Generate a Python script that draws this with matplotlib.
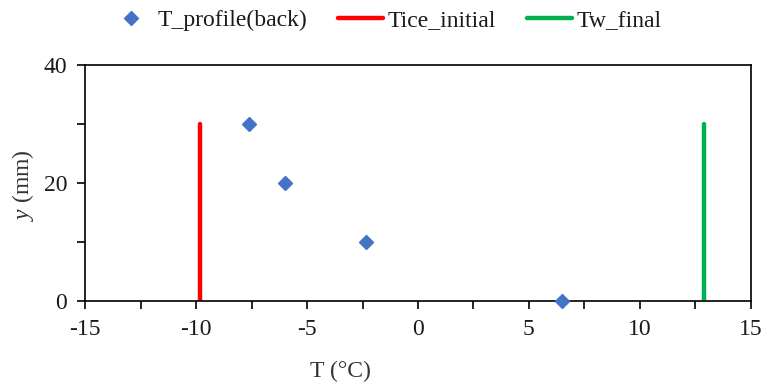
import matplotlib
matplotlib.use("Agg")
import matplotlib.pyplot as plt
from matplotlib.ticker import MultipleLocator

plt.rcParams['font.family'] = ['Liberation Serif', 'DejaVu Serif']
plt.rcParams['mathtext.fontset'] = 'custom'
plt.rcParams['mathtext.rm'] = 'Liberation Serif'
plt.rcParams['mathtext.it'] = 'Liberation Serif:italic'
plt.rcParams['axes.unicode_minus'] = False

# Temperature profile measured at the back (T in °C, y in mm)
profile_T = [-7.6, -6.0, -2.35, 6.5]
profile_y = [30, 20, 10, 0]

# Reference temperatures drawn as vertical lines over the same height
tice_initial = -9.85
tw_final = 12.9
line_y = [0, 30]

blue = "#4472C4"
red = "#FF0000"
green = "#00B050"
txt = "#1a1a1a"

fig = plt.figure(figsize=(7.62, 3.87), dpi=100)
ax = fig.add_axes([0.112, 0.222, 0.873, 0.610])

ax.plot(profile_T, profile_y, linestyle="none", marker="D", markersize=7.5,
        color=blue, label="T_profile(back)", zorder=3, clip_on=False)
ax.plot([tice_initial] * len(line_y), line_y, color=red, linewidth=3.2,
        solid_capstyle="round", label="Tice_initial")
ax.plot([tw_final] * len(line_y), line_y, color=green, linewidth=3.2,
        solid_capstyle="round", label="Tw_final")

ax.set_xlim(-15, 15)
ax.set_ylim(0, 40)
ax.xaxis.set_major_locator(MultipleLocator(5))
ax.xaxis.set_minor_locator(MultipleLocator(2.5))
ax.yaxis.set_major_locator(MultipleLocator(20))
ax.yaxis.set_minor_locator(MultipleLocator(10))

for s in ax.spines.values():
    s.set_linewidth(1.2)
    s.set_color("black")
ax.tick_params(which="both", direction="out", length=6, width=1.2, color="black")
ax.tick_params(which="major", labelsize=17, labelcolor=txt, pad=7)

ax.set_xlabel("T (°C)", fontsize=17, color="#333333")
ax.xaxis.set_label_coords(0.383, -0.30)
ax.xaxis.label.set_va("center")
ax.set_ylabel(r"$\it{y}$ (mm)", fontsize=17, color="#333333")
ax.yaxis.set_label_coords(-0.094, 0.49)
ax.yaxis.label.set_va("center")

handles, labels = ax.get_legend_handles_labels()
fig.legend(handles, labels, loc="center", bbox_to_anchor=(0.505, 0.948),
           ncol=3, frameon=False, fontsize=17, handlelength=1.9,
           handletextpad=0.2, columnspacing=1.3, labelcolor=txt,
           borderpad=0, borderaxespad=0)

fig.savefig("out.png", dpi=100)
